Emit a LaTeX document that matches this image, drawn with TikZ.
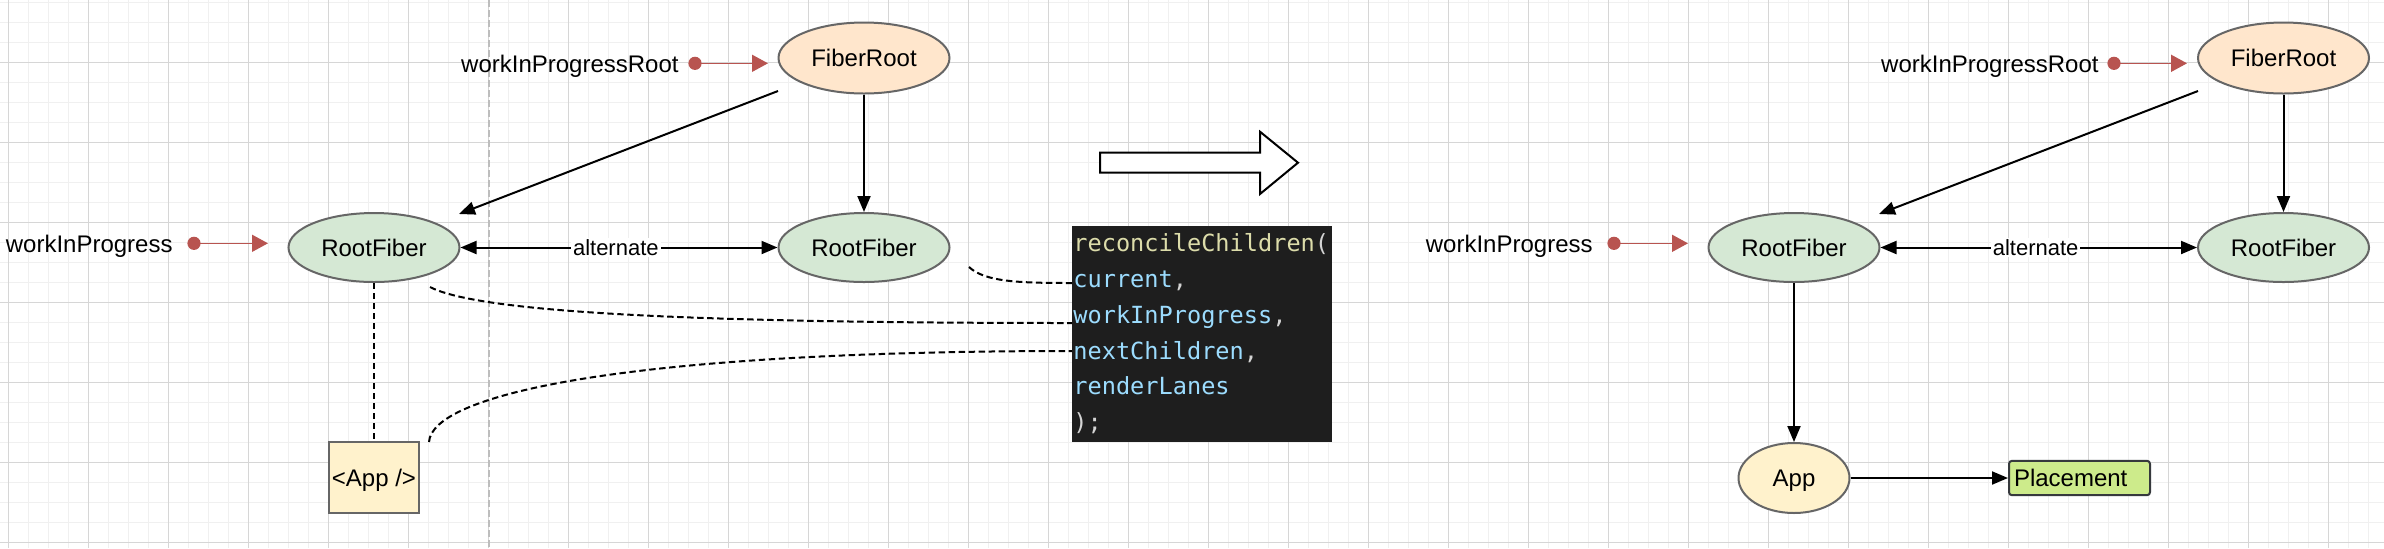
\documentclass[tikz,border=0pt]{standalone}
\usepackage{fontspec}
\setmainfont{Liberation Sans}
\newfontfamily\codefont{DejaVu Sans Mono}
\usetikzlibrary{arrows.meta,shapes.geometric}
\definecolor{redc}{HTML}{B85450}
\definecolor{strokegray}{HTML}{666666}
\definecolor{darkstroke}{HTML}{36393D}
\definecolor{orangef}{HTML}{FFE6CC}
\definecolor{greenf}{HTML}{D5E8D4}
\definecolor{yellowf}{HTML}{FFF2CC}
\definecolor{placef}{HTML}{CDEB8B}
\definecolor{gridminor}{HTML}{F0F0F0}
\definecolor{gridmajor}{HTML}{D6D6D6}
\definecolor{pagebreak}{HTML}{BDBDBD}
\definecolor{codebg}{HTML}{1E1E1E}
\definecolor{cyel}{HTML}{DCDCAA}
\definecolor{cblue}{HTML}{9CDCFE}
\definecolor{cpunc}{HTML}{D4D4D4}
\tikzset{
  lbl/.style={font=\fontsize{12pt}{14pt}\selectfont, inner sep=0pt, text height=8.6pt, text depth=0pt},
  altlbl/.style={font=\fontsize{11pt}{13pt}\selectfont, inner sep=1pt, text height=7.9pt, text depth=0pt, fill=white},
  fiberroot/.style={ellipse, draw=strokegray, fill=orangef, line width=1pt, minimum width=85.5pt, minimum height=35.5pt, inner sep=0pt, lbl},
  rootfiber/.style={ellipse, draw=strokegray, fill=greenf, line width=1pt, minimum width=85.5pt, minimum height=34.5pt, inner sep=0pt, lbl},
  appbox/.style={rectangle, draw=strokegray, fill=yellowf, line width=1pt, minimum width=45pt, minimum height=35.5pt, inner sep=0pt, lbl},
  appell/.style={ellipse, draw=strokegray, fill=yellowf, line width=1pt, minimum width=55.5pt, minimum height=35pt, inner sep=0pt, lbl},
  placebox/.style={rectangle, rounded corners=1.5pt, draw=darkstroke, fill=placef, line width=1pt, minimum height=17.2pt, text width=65.5pt, inner xsep=2.5pt, inner ysep=0pt, align=left, font=\fontsize{12pt}{14pt}\selectfont, text height=8.6pt, text depth=0pt},
  codebox/.style={rectangle, fill=codebg, inner sep=0pt, minimum width=130pt, minimum height=108pt},
  codeline/.style={font=\codefont\fontsize{11.8pt}{14pt}\selectfont, inner sep=0pt, anchor=base west},
  redarr/.style={draw=redc, line width=0.8pt, -{Triangle[length=8pt,width=8.5pt]}},
  reddot/.style={fill=redc},
  blk/.style={line width=1pt, -{Triangle[length=8pt,width=6.5pt]}},
  blkboth/.style={line width=1pt, {Triangle[length=8pt,width=6.5pt]}-{Triangle[length=8pt,width=6.5pt]}},
  dashlink/.style={line width=1pt, dash pattern=on 3.2pt off 1.8pt},
  gminor/.style={draw=gridminor, line width=0.5pt},
  gmajor/.style={draw=gridmajor, line width=0.5pt},
  bigarrow/.style={draw=black, fill=white, line width=1pt, line join=miter}
}
\begin{document}
\begin{tikzpicture}[x=0.5pt,y=-0.5pt]
\useasboundingbox (0,0) rectangle (2384,548);
\fill[white] (0,0) rectangle (2384,548);
% grid
\foreach \x in {8,28,...,2384} \draw[gminor] (\x,0) -- (\x,548);
\foreach \y in {2,22,...,548} \draw[gminor] (0,\y) -- (2384,\y);
\foreach \x in {8,88,...,2384} \draw[gmajor] (\x,0) -- (\x,548);
\foreach \y in {62,142,...,548} \draw[gmajor] (0,\y) -- (2384,\y);
% page break line
\draw[pagebreak, line width=0.7pt, dash pattern=on 3.6pt off 1.4pt] (489,0) -- (489,548);

% ---------- left diagram ----------
\node[fiberroot] (fr1) at (864,58) {FiberRoot};
\node[rootfiber] (rf1) at (374,247.5) {RootFiber};
\node[rootfiber] (rf2) at (864,247.5) {RootFiber};
\node[appbox] (appbox) at (374,477.5) {<App />};
\node[lbl, anchor=east] (wipr1) at (679,63.8) {workInProgressRoot};
\node[lbl, anchor=east] (wip1) at (173,244.3) {workInProgress};

\coordinate (d1) at (695,63.3);
\coordinate (t1) at (768,63.3);
\coordinate (d2) at (194,243.3);
\coordinate (t2) at (268,243.3);
\draw[redarr] (d1) -- (t1);
\fill[reddot] (d1) circle (3.3pt);
\draw[redarr] (d2) -- (t2);
\fill[reddot] (d2) circle (3.3pt);

\coordinate (s1) at (778,91);
\coordinate (e1) at (459,214);
\draw[blk] (s1) -- (e1);
\draw[blk] (fr1.south) -- (rf2.north);
\draw[blkboth] (rf1.east) -- node[altlbl, pos=0.49] (alt1) {alternate} (rf2.west);
\draw[dashlink] (rf1.south) -- (appbox.north);

% code box
\node[codebox, anchor=north west] (code) at (1072,226) {};
\node[codeline] (cl1) at (1073,251) {\textcolor{cyel}{reconcileChildren}\textcolor{cpunc}{(}};
\node[codeline] (cl2) at (1073,287) {\textcolor{cblue}{current}\textcolor{cpunc}{,}};
\node[codeline] (cl3) at (1073,323) {\textcolor{cblue}{workInProgress}\textcolor{cpunc}{,}};
\node[codeline] (cl4) at (1073,359) {\textcolor{cblue}{nextChildren}\textcolor{cpunc}{,}};
\node[codeline] (cl5) at (1073,394.5) {\textcolor{cblue}{renderLanes}};
\node[codeline] (cl6) at (1073,430) {\textcolor{cpunc}{);}};

\coordinate (k1) at (1072,283);
\coordinate (k2) at (1072,323);
\coordinate (k3) at (1072,351);
\coordinate (c3s) at (969,267);
\coordinate (c1s) at (430,287);
\coordinate (c2s) at (429,442);
\draw[dashlink] (c3s) .. controls (985,282) and (1020,283) .. (k1);
\draw[dashlink] (c1s) .. controls (480,313) and (700,323) .. (k2);
\draw[dashlink] (c2s) .. controls (432,395) and (620,351) .. (k3);

% big hollow arrow
\draw[bigarrow] (1100,152.7) -- (1260,152.7) -- (1260,131.7) -- (1298,162.7) -- (1260,194) -- (1260,172.7) -- (1100,172.7) -- cycle;

% ---------- right diagram ----------
\node[fiberroot] (fr3) at (2283.5,58) {FiberRoot};
\node[rootfiber] (rf3) at (1794,247.5) {RootFiber};
\node[rootfiber] (rf4) at (2283.5,247.5) {RootFiber};
\node[appell] (app) at (1794,478) {App};
\node[placebox, anchor=west] (place) at (2008,478) {Placement};
\node[lbl, anchor=east] (wipr2) at (2099,63.8) {workInProgressRoot};
\node[lbl, anchor=east] (wip2) at (1593,244.3) {workInProgress};

\coordinate (d3) at (2114,63.3);
\coordinate (t3) at (2187,63.3);
\coordinate (d4) at (1614,243.3);
\coordinate (t4) at (1688,243.3);
\draw[redarr] (d3) -- (t3);
\fill[reddot] (d3) circle (3.3pt);
\draw[redarr] (d4) -- (t4);
\fill[reddot] (d4) circle (3.3pt);

\coordinate (s2) at (2198,91);
\coordinate (e2) at (1879,214);
\draw[blk] (s2) -- (e2);
\draw[blk] (fr3.south) -- (rf4.north);
\draw[blkboth] (rf3.east) -- node[altlbl, pos=0.49] (alt2) {alternate} (rf4.west);
\draw[blk] (rf3.south) -- (app.north);
\draw[blk] (app.east) -- (place.west);
\end{tikzpicture}
\end{document}
